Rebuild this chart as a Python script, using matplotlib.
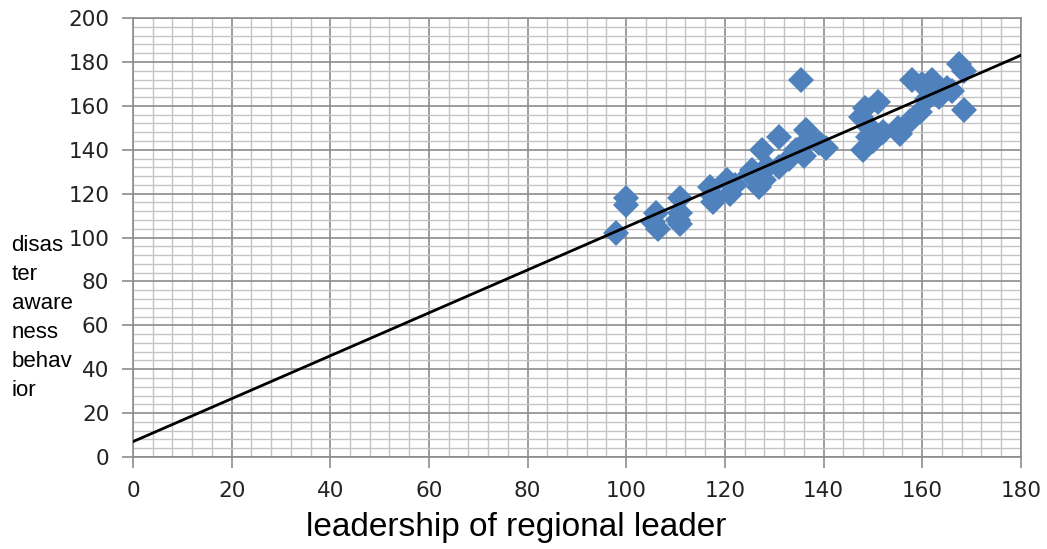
import numpy as np
import matplotlib
matplotlib.use("Agg")
import matplotlib.pyplot as plt
from matplotlib.ticker import MultipleLocator

# leadership score (x) vs disaster awareness behaviour (y)
leadership = [98, 100, 100, 105.5, 106, 106.5, 110.5, 111, 111, 111,
              117, 117.5, 117.5, 120.5, 121, 122, 125, 125.5, 127, 127.5,
              128, 128.5, 131, 131, 133, 134.5, 135.5, 136, 136.5, 137,
              139, 140.5, 147.5, 148, 148.5, 149, 149.5, 150, 151, 152,
              155, 155.5, 157.5, 159.5, 158, 160, 161, 162, 163.5, 165,
              166, 167.5, 168.5, 168.5]
awareness = [102, 118, 115, 107, 111, 104, 108, 118, 111, 106,
             123, 116, 119, 126, 120, 124, 129, 131, 123, 140,
             126, 132, 146, 132, 136, 140, 172, 137, 149, 145,
             143, 141, 155, 140, 159, 146, 150, 144, 162, 148,
             150, 147, 153, 157, 172, 170, 163, 172, 164, 168,
             167, 179, 176, 158]

trend_intercept = 7.0
trend_slope = 0.978

x_ticks = list(range(0, 181, 20))
y_ticks = list(range(0, 201, 20))

fig = plt.figure(figsize=(10.47, 5.49), dpi=100)
ax = fig.add_axes([0.127, 0.1676, 0.848, 0.7994])

ax.set_xlim(0, 180)
ax.set_ylim(0, 200)
ax.set_xticks(x_ticks)
ax.set_yticks(y_ticks)
ax.xaxis.set_minor_locator(MultipleLocator(4))
ax.yaxis.set_minor_locator(MultipleLocator(4))
ax.grid(which="major", color="#8c8c8c", linewidth=1.2)
ax.grid(which="minor", color="#c4c4c4", linewidth=1.0)
ax.set_axisbelow(True)

for s in ax.spines.values():
    s.set_color("#8c8c8c")
    s.set_linewidth(1.2)

ax.tick_params(which="major", direction="out", length=8, width=1.2,
               color="#8c8c8c", labelsize=15.5, labelcolor="#222222", pad=9)
ax.tick_params(which="minor", length=0)
for lab in ax.get_xticklabels() + ax.get_yticklabels():
    lab.set_family("DejaVu Sans")

ax.plot(leadership, awareness, linestyle="none", marker="D", ms=13,
        color="#4F81BD", markeredgewidth=0, zorder=3)

xl = np.array([0, 180])
ax.plot(xl, trend_intercept + trend_slope * xl, color="black", linewidth=2.0,
        zorder=4)

fig.text(0.493, 0.04, "leadership of regional leader", fontsize=24,
         family="Liberation Sans", ha="center", va="center")
fig.text(0.011, 0.572, "disas\nter\naware\nness\nbehav\nior", fontsize=16,
         family="Liberation Sans", va="top", ha="left", linespacing=1.5)

fig.savefig("out.png", dpi=100)
